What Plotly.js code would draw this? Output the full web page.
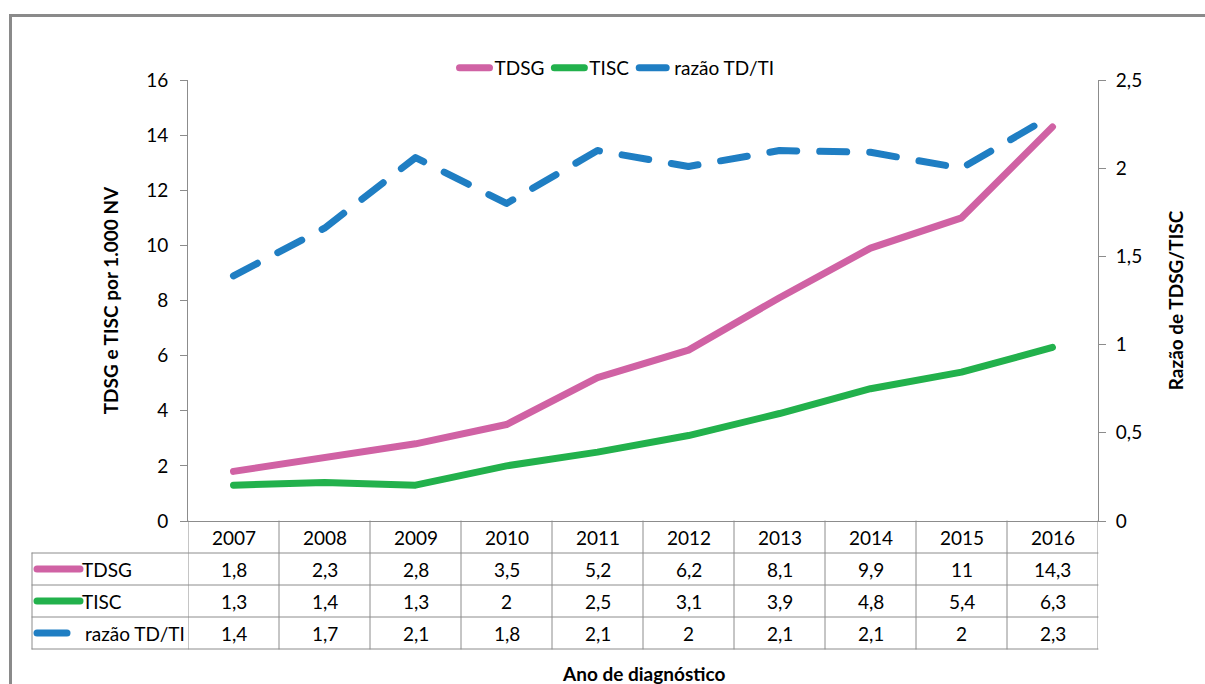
<!DOCTYPE html>
<html>
<head>
<meta charset="utf-8">
<script src="https://cdn.plot.ly/plotly-3.0.1.min.js"></script>
<style>
  html, body { margin: 0; padding: 0; background: #fff; overflow: hidden; }
  #wrap { position: relative; width: 1205px; height: 684px; }
  #chart { width: 1205px; height: 684px; }
  #frame { position: absolute; left: 9px; top: 14px; width: 1300px; height: 800px;
           border-top: 3px solid #8a8a8a; border-left: 3px solid #8a8a8a; pointer-events: none; }
  .scatterlayer .js-line, .legendlines path { stroke-linecap: round; stroke-linejoin: round; }
  .shapelayer path { stroke-linecap: round; }
</style>
</head>
<body>
<div id="wrap">
  <div id="chart"></div>
  <div id="frame"></div>
</div>
<script>
// ---- data ----
const years = ['2007','2008','2009','2010','2011','2012','2013','2014','2015','2016'];
const tdsg  = [1.8, 2.3, 2.8, 3.5, 5.2, 6.2, 8.1, 9.9, 11, 14.3];
const tisc  = [1.3, 1.4, 1.3, 2, 2.5, 3.1, 3.9, 4.8, 5.4, 6.3];
const razao = [1.39, 1.66, 2.06, 1.80, 2.10, 2.01, 2.10, 2.09, 2.00, 2.30];
const seriesNames = ['TDSG', 'TISC', 'razão TD/TI'];

// ---- styles ----
const colors = ['#D062A4', '#22B14C', '#1F7EC3'];
const FONT = 'Lato, "Open Sans", sans-serif';
const FS = 19;
const gridGray = '#8c8c8c';

const W = 1205, H = 684;
const M = { l: 188, r: 107, t: 80, b: 163 };
const plotW = W - M.l - M.r, plotH = H - M.t - M.b;
const px2x = px => (px - M.l) / plotW;          // pixel -> paper x
const rowH = 32 / plotH;                        // table row height in paper units
const leftColX = px2x(32);

const idx = years.map((_, i) => i);
const fmt = v => { let s = (Math.round(v * 10) / 10).toFixed(1); if (s.endsWith('.0')) s = s.slice(0, -2); return s.replace('.', ','); };
const txtFont = { size: FS, color: '#000', family: FONT };

const traces = [
  { x: idx, y: tdsg, name: seriesNames[0], type: 'scatter', mode: 'lines',
    line: { color: colors[0], width: 7 }, yaxis: 'y' },
  { x: idx, y: tisc, name: seriesNames[1], type: 'scatter', mode: 'lines',
    line: { color: colors[1], width: 7 }, yaxis: 'y' },
  { x: idx, y: razao, name: seriesNames[2], type: 'scatter', mode: 'lines',
    line: { color: colors[2], width: 7, dash: '27px,23px' }, yaxis: 'y2' }
];

const shapes = [];
const annotations = [];
const lineStyle = { color: gridGray, width: 1 };

// horizontal table lines
for (let r = 1; r <= 4; r++) {
  shapes.push({ type: 'line', xref: 'paper', yref: 'paper', x0: leftColX, x1: 1,
    y0: -r * rowH, y1: -r * rowH, line: lineStyle, layer: 'above' });
}
// vertical table lines
shapes.push({ type: 'line', xref: 'paper', yref: 'paper', x0: leftColX, x1: leftColX,
  y0: -rowH, y1: -4 * rowH, line: lineStyle });
for (let i = 0; i <= years.length; i++) {
  shapes.push({ type: 'line', xref: 'x', yref: 'paper', x0: i - 0.5, x1: i - 0.5,
    y0: 0, y1: -4 * rowH, line: lineStyle });
}
// header years
years.forEach((yr, i) => annotations.push({ x: i, xref: 'x', y: -0.5 * rowH, yref: 'paper',
  text: yr, showarrow: false, yanchor: 'middle', font: txtFont }));
// value rows
const rows = [tdsg, tisc, razao];
rows.forEach((vals, r) => {
  vals.forEach((v, i) => annotations.push({ x: i, xref: 'x', y: -(r + 1.5) * rowH, yref: 'paper',
    text: fmt(v), showarrow: false, yanchor: 'middle', font: txtFont }));
  // row legend keys
  const keyEnd = r === 2 ? 67 : 80;
  shapes.push({ type: 'line', xref: 'paper', yref: 'paper', x0: px2x(37), x1: px2x(keyEnd),
    y0: -(r + 1.5) * rowH, y1: -(r + 1.5) * rowH, line: { color: colors[r], width: 7 } });
  annotations.push({ x: px2x(r === 2 ? 83 : 80), xref: 'paper', xanchor: 'left', y: -(r + 1.5) * rowH,
    yref: 'paper', yanchor: 'middle', text: seriesNames[r], showarrow: false, font: txtFont });
});
// x axis title
annotations.push({ x: 0.5, xref: 'paper', y: -(673 - (H - M.b)) / plotH, yref: 'paper', yanchor: 'middle',
  text: '<b>Ano de diagnóstico</b>', showarrow: false, font: txtFont });

const layout = {
  width: W, height: H,
  margin: M,
  paper_bgcolor: 'rgba(0,0,0,0)', plot_bgcolor: 'rgba(0,0,0,0)',
  font: txtFont,
  separators: ', ',
  showlegend: true,
  legend: { orientation: 'h', x: px2x(617), xanchor: 'center', y: 1 + 12 / plotH, yanchor: 'middle',
    font: txtFont, bgcolor: 'rgba(0,0,0,0)', tracegroupgap: 0 },
  xaxis: { range: [-0.5, years.length - 0.5], showticklabels: false, ticks: '',
    showgrid: false, zeroline: false, showline: true, linecolor: gridGray, linewidth: 1,
    fixedrange: true },
  yaxis: { range: [0, 16], dtick: 2, tick0: 0, ticks: 'outside', ticklen: 7, tickcolor: gridGray,
    showgrid: false, zeroline: false, showline: true, linecolor: gridGray, linewidth: 1,
    ticklabelstandoff: 8,
    tickfont: txtFont,
    title: { text: '<b>TDSG e TISC por 1.000 NV</b>', standoff: 22, font: txtFont } },
  yaxis2: { range: [0, 2.5], dtick: 0.5, tick0: 0, overlaying: 'y', side: 'right',
    ticks: 'outside', ticklen: 7, tickcolor: gridGray,
    showgrid: false, zeroline: false, showline: true, linecolor: gridGray, linewidth: 1,
    ticklabelstandoff: 6,
    tickfont: txtFont,
    title: { text: '<b>Razão de TDSG/TISC</b>', standoff: 28, font: txtFont } },
  shapes: shapes,
  annotations: annotations
};

Plotly.newPlot('chart', traces, layout, { staticPlot: true, displayModeBar: false });
</script>
</body>
</html>
